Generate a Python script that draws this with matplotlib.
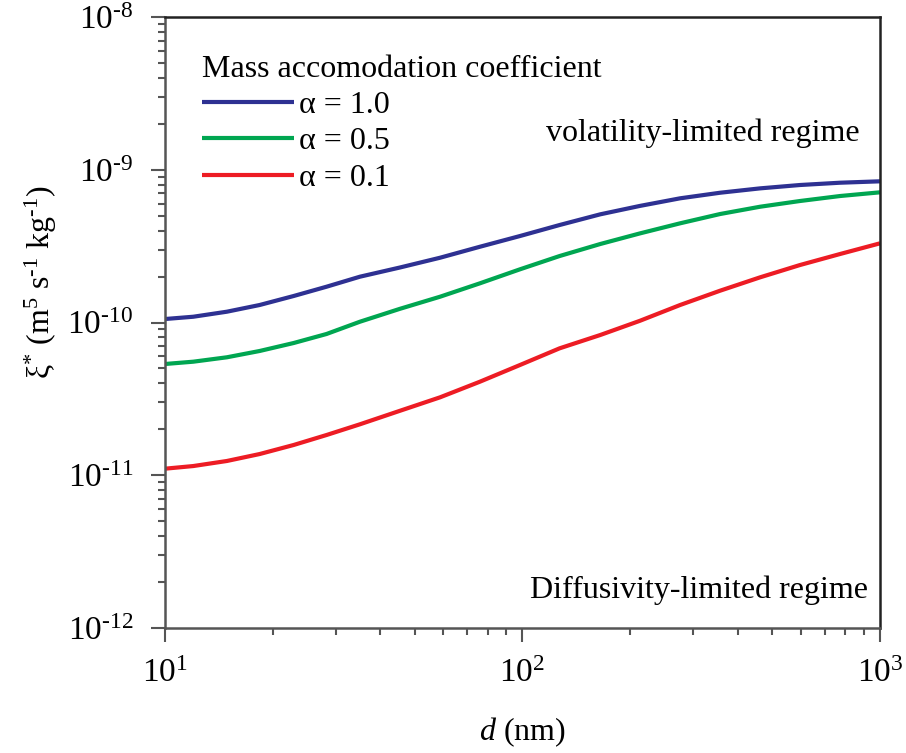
import matplotlib
matplotlib.use("Agg")
import matplotlib.pyplot as plt

plt.rcParams['font.family'] = ['Liberation Serif', 'DejaVu Serif']
plt.rcParams['mathtext.fontset'] = 'custom'
plt.rcParams['mathtext.rm'] = 'Liberation Serif'
plt.rcParams['mathtext.it'] = 'Liberation Serif:italic'
plt.rcParams['axes.unicode_minus'] = False

# diameter (nm) and xi* (m^5 s^-1 kg^-1)
d_nm = [10, 12, 14.9, 18.4, 22.9, 28.3, 35.1, 45.4, 58.8, 76, 98.4, 127, 165,
        213, 276, 357, 462, 597, 773, 1000]
xi_a10 = [1.054e-10, 1.091e-10, 1.177e-10, 1.302e-10, 1.491e-10, 1.715e-10, 1.995e-10,
          2.291e-10, 2.655e-10, 3.133e-10, 3.683e-10, 4.348e-10, 5.108e-10, 5.798e-10,
          6.503e-10, 7.073e-10, 7.555e-10, 7.946e-10, 8.226e-10, 8.402e-10]
xi_a05 = [5.35e-11, 5.54e-11, 5.92e-11, 6.51e-11, 7.34e-11, 8.41e-11, 1.012e-10,
          1.229e-10, 1.475e-10, 1.805e-10, 2.230e-10, 2.724e-10, 3.265e-10, 3.831e-10,
          4.461e-10, 5.131e-10, 5.728e-10, 6.243e-10, 6.731e-10, 7.117e-10]
xi_a01 = [1.104e-11, 1.149e-11, 1.240e-11, 1.377e-11, 1.578e-11, 1.834e-11, 2.156e-11,
          2.642e-11, 3.237e-11, 4.096e-11, 5.270e-11, 6.776e-11, 8.282e-11, 1.026e-10,
          1.302e-10, 1.615e-10, 1.976e-10, 2.378e-10, 2.808e-10, 3.299e-10]

labels = ['α = 1.0', 'α = 0.5', 'α = 0.1']
colors = ['#2e3192', '#00a651', '#ed1c24']

xticks = [10, 100, 1000]
xticklabels = ['10$^{1}$', '10$^{2}$', '10$^{3}$']
yticks = [1e-12, 1e-11, 1e-10, 1e-9, 1e-8]
yticklabels = ['10$^{\u201012}$', '10$^{\u201011}$', '10$^{\u201010}$',
               '10$^{\u20109}$', '10$^{\u20108}$']

fig = plt.figure(figsize=(9.06, 7.53), dpi=100)
ax = fig.add_axes([0.1821, 0.166, 0.7892, 0.8114])

for ys, lab, c in zip([xi_a10, xi_a05, xi_a01], labels, colors):
    ax.plot(d_nm, ys, color=c, lw=3, label=lab, solid_capstyle='butt')

ax.set_xscale('log')
ax.set_yscale('log')
ax.set_xlim(10, 1000)
ax.set_ylim(1e-12, 1e-8)

ax.set_xticks(xticks)
ax.set_xticklabels(xticklabels)
ax.set_yticks(yticks)
ax.set_yticklabels(yticklabels)

ax.tick_params(which='major', direction='out', length=10, width=1.5, color='#555555',
               labelsize=24, pad=13)
ax.tick_params(which='minor', direction='out', length=5, width=1.5, color='#555555')
ax.tick_params(axis='x', which='major', pad=12)

for side in ['left', 'bottom']:
    ax.spines[side].set_color('#555555')
    ax.spines[side].set_linewidth(1.8)
for side in ['top', 'right']:
    ax.spines[side].set_color('#222222')
    ax.spines[side].set_linewidth(1.8)

ax.set_xlabel('$d$ (nm)', fontsize=23, labelpad=19)
ax.set_ylabel('ξ$^{*}$ (m$^{5}$ s$^{\u20101}$ kg$^{\u20101}$)', fontsize=23)
ax.yaxis.set_label_coords(-0.148, 0.565)

serif = {'family': 'Liberation Serif', 'size': 23}
leg = ax.legend(loc='upper left', bbox_to_anchor=(0.02, 0.975), frameon=False,
                prop=serif, title='Mass accomodation coefficient', title_fontproperties=serif,
                alignment='left', handlelength=2.9, handletextpad=0.15,
                labelspacing=0.22, borderpad=0.2)

ax.text(0.972, 0.81, 'volatility-limited regime', transform=ax.transAxes,
        ha='right', va='center', fontsize=23)
ax.text(0.983, 0.062, 'Diffusivity-limited regime', transform=ax.transAxes,
        ha='right', va='center', fontsize=23)

fig.savefig('out.png', dpi=100)
